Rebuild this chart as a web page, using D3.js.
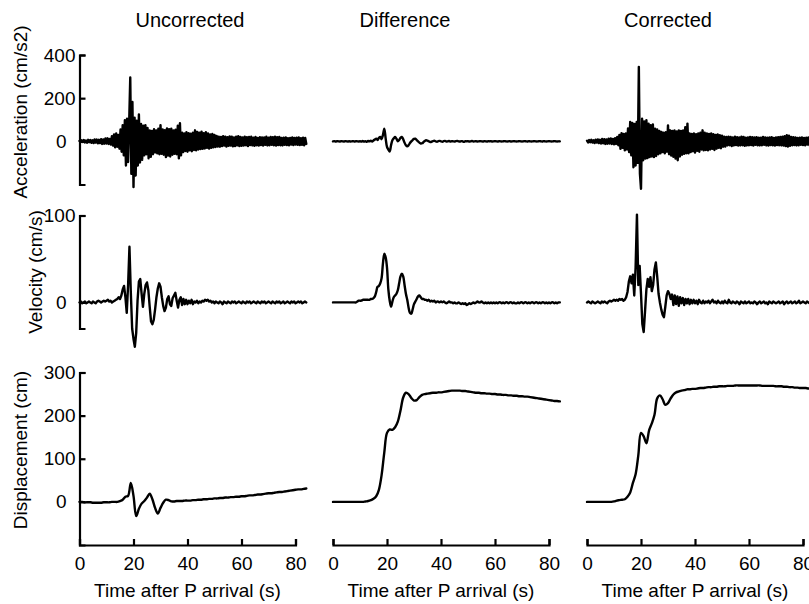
<!DOCTYPE html>
<html>
<head>
<meta charset="utf-8">
<script src="https://cdn.jsdelivr.net/npm/d3@7"></script>
<style>
  body { margin: 0; background: #fff; }
  svg { display: block; }
  text { font-family: "Liberation Sans", Arial, Helvetica, sans-serif; fill: #000; }
</style>
</head>
<body>
<svg id="chart" width="809" height="604"></svg>
<script>
// ---- labels and ticks ----
const columnTitles = ["Uncorrected", "Difference", "Corrected"];
const rowLabels = ["Acceleration (cm/s2)", "Velocity (cm/s)", "Displacement (cm)"];
const timeTicks = [0, 20, 40, 60, 80];
const accTicks = [400, 200, 0];
const velTicks = [100, 0];
const dispTicks = [300, 200, 100, 0];
const xAxisTitle = "Time after P arrival (s)";

// ---- sampling intervals (s) ----
const accStep = 0.4;
const accDiffStep = 0.5;
const velStep = 0.5;
const dispStep = 1;

// ---- acceleration (cm/s2), from t = 0 ----
const accUncorrected = [
  2,-4,5,-3,6,-5,4,-6,7,-4,
  6,-7,5,-8,9,-6,8,-9,7,-8,
  10,-12,9,-11,13,-10,14,-12,11,-15,
  24,-20,32,-28,36,-25,30,-34,55,-48,
  75,-65,98,-112,105,-96,88,296,-150,182,
  -212,110,-158,96,-112,124,-98,80,-86,72,
  -65,75,-60,62,-79,51,-72,48,-60,56,
  -52,50,-56,58,-60,75,-58,55,-62,52,
  -73,60,-66,56,-70,58,-62,50,-58,54,
  -60,72,-79,84,-65,40,-50,36,-45,42,
  -48,38,-42,35,-46,40,-40,51,-42,44,
  -38,40,-36,45,-35,38,-33,42,-30,36,
  -34,32,-30,34,-28,30,-26,25,-24,22,
  -25,20,-22,24,-20,22,-24,19,-21,23,
  -20,22,-23,18,-22,21,-19,24,-22,20,
  -21,18,-20,22,-18,19,-22,20,-17,21,
  -19,17,-21,20,-18,16,-20,19,-17,18,
  -20,18,-16,21,-19,17,-18,20,-16,19,
  -18,22,-20,19,-17,20,-18,16,-19,17,
  -16,18,-17,15,-18,16,-15,18,-17,16,
  -15,17,-16,18,-17,15,-16,17,-18,16,
  -12
];
const accDifference = [
  0,1,-1,1,0,-1,1,0,-1,1,
  0,-1,1,-1,0,1,-1,1,0,-1,
  1,-1,2,-1,1,-2,2,0,3,-1,
  4,8,12,6,16,20,10,30,59,14,
  -26,-38,-47,-18,5,14,20,12,0,6,
  16,20,10,-6,-18,-23,-18,-8,0,6,
  11,12,6,0,-6,-10,-9,-4,2,5,
  3,0,-3,-2,1,3,0,-2,1,2,
  0,-2,1,2,-1,0,2,-1,1,0,
  -1,1,2,0,-1,1,0,-2,1,0,
  1,-1,0,2,-1,0,1,-1,0,1,
  0,-1,1,0,-1,1,0,1,-1,0,
  1,0,-1,1,0,-1,0,1,0,-1,
  0,1,-1,0,1,0,-1,0,1,0,
  -1,0,1,0,-1,1,0,-1,0,1,
  0,-1,0,1,0,-1,1,0,-1,0,
  1,0,-1,0,1,0,-1,0,0
];
const accCorrected = [
  3,-5,6,-4,7,-6,5,-8,8,-6,
  9,-8,7,-10,11,-9,10,-12,9,-11,
  12,-10,13,-12,11,-14,15,-12,20,-18,
  30,-35,38,-30,34,-42,36,-38,60,-50,
  90,-65,85,-120,80,-112,90,-100,345,-150,
  -220,105,-88,92,-80,98,-78,82,-73,75,
  -70,78,-73,59,-68,55,-60,48,-56,43,
  -50,40,-56,42,-48,74,-60,51,-66,48,
  -72,50,-80,46,-88,51,-70,48,-62,50,
  -58,66,-55,82,-56,36,-50,34,-46,36,
  -52,33,-44,36,-48,40,-38,51,-42,40,
  -40,36,-42,34,-38,36,-35,33,-40,30,
  -34,32,-30,28,-32,26,-25,22,-24,20,
  -19,21,-18,20,-22,18,-19,21,-17,19,
  -20,18,-19,22,-18,20,-21,17,-19,18,
  -18,20,-17,19,-20,18,-16,19,-18,17,
  -19,17,-18,20,-16,18,-19,17,-20,18,
  -17,19,-18,16,-20,18,-17,19,-18,20,
  -19,22,-20,24,-22,28,-24,26,-21,20,
  -18,19,-17,18,-19,16,-18,17,-16,18,
  -17,16,-18,17,-15,18,-17,16,-18,17,
  -15
];

// ---- velocity (cm/s), from t = 0 ----
const velUncorrected = [
  0,1,-1,0,1,-1,0,1,0,-1,
  1,0,-1,1,2,1,0,1,2,1,
  2,3,1,2,0,1,2,3,4,6,
  4,8,15,19,6,-12,20,64,12,-30,
  -42,-51,-35,2,24,27,10,-5,10,20,
  23,14,-5,-22,-25,-20,-8,6,16,22,
  18,6,-4,-10,-6,4,7,-2,-4,5,
  8,11,2,-6,3,6,-3,4,-2,3,
  -2,2,-1,3,-2,1,0,2,-1,1,
  0,2,1,3,2,3,1,2,0,1,
  -1,1,0,-1,1,0,-2,1,0,-1,
  1,0,-1,1,0,1,-1,0,1,0,
  -1,1,0,-1,1,0,1,-1,0,1,
  0,-1,1,0,-1,1,0,1,-1,0,
  1,0,-1,1,0,-1,1,0,1,-1,
  0,1,-1,0,1,0,-1,1,0,1,
  -1,0,1,0,1,-1,0,1,0
];
const velDifference = [
  0,0,0,0,0,0,0,0,0,0,
  0,0,0,0,0,0,0,0,1,2,
  2,2,3,3,3,3,3,3,4,4,
  5,7,12,18,19,22,28,45,56,52,
  40,15,2,-5,1,6,8,10,14,22,
  30,33,30,20,10,3,-6,-12,-13,-8,
  -2,1,4,7,8,6,4,4,3,3,
  2,3,1,2,1,2,0,1,1,0,
  1,0,1,0,-1,0,1,0,0,-1,
  0,-1,-1,0,-1,-2,-1,-2,-1,-3,
  -2,-1,-2,-1,0,-1,0,1,0,0,
  1,0,-1,0,-1,0,-1,0,-1,0,
  -1,0,-1,0,0,-1,0,-1,0,0,
  -1,0,0,-1,0,-1,-1,0,-1,0,
  0,-1,0,0,-1,0,-1,0,0,-1,
  0,0,-1,0,-1,0,0,-1,0,-1,
  0,-1,0,0,-1,0,-1,0,0
];
const velCorrected = [
  0,1,0,-1,1,0,-1,0,1,0,
  -1,1,0,1,0,-1,1,2,1,2,
  3,2,3,2,4,3,4,2,3,6,
  12,24,30,22,32,8,40,101,20,42,
  10,-25,-34,-10,15,27,18,29,13,20,
  38,46,30,10,0,-8,-14,-17,-5,8,
  13,10,4,9,-3,8,-2,7,-4,6,
  -1,5,-3,4,-1,4,-2,3,-1,3,
  -1,2,-2,3,0,-1,2,-1,1,0,
  2,-1,1,3,0,1,-1,2,0,-1,
  1,-1,2,0,-1,3,0,-1,1,0,
  -1,1,0,-2,1,0,-1,1,-1,0,
  1,-1,0,-1,1,0,-2,0,1,-1,
  0,1,-1,0,-2,1,0,-1,1,0,
  -1,0,1,-1,0,1,-2,0,1,-1,
  0,1,-1,0,1,-1,0,2,-1,0,
  1,0,-1,1,0,-1,1,0,1
];

// ---- displacement (cm), from t = 0 ----
const dispUncorrected = [
  0,0,-1,-1,-1,-2,-2,-2,-2,-1,
  -1,-1,0,0,0,2,5,12,14,44,
  14,-33,-16,-4,2,10,19,6,-14,-27,
  -14,-2,5,4,1,1,2,2,2,3,
  3,3,4,4,5,5,6,6,7,7,
  8,8,9,9,10,10,11,11,12,12,
  13,13,14,15,15,16,17,17,18,19,
  20,20,21,22,23,23,24,25,26,27,
  28,29,29,30,31
];
const dispDifference = [
  0,0,0,0,0,0,0,0,0,0,
  0,0,1,2,4,7,13,28,62,115,
  160,168,167,173,186,212,242,253,250,241,
  235,236,243,248,250,251,252,253,253,254,
  254,255,256,257,258,258,258,258,257,257,
  256,255,254,253,253,252,252,251,251,250,
  250,249,249,248,248,247,247,246,246,245,
  245,244,244,243,242,241,240,239,238,237,
  236,235,234,234,233
];
const dispCorrected = [
  0,0,0,0,0,0,0,0,0,0,
  1,3,4,5,6,12,22,44,64,108,
  160,152,136,166,182,202,240,247,238,225,
  229,240,249,254,256,258,259,261,261,262,
  262,263,264,264,265,266,266,267,267,268,
  268,268,269,269,269,270,270,270,270,270,
  270,270,270,270,270,269,269,269,269,269,
  268,268,268,267,267,266,266,265,265,264,
  264,264,263,263,262
];

// ---- layout ----
const svg = d3.select("#chart");
const colRanges = [[79.5, 295.5], [333, 549], [587, 803]];
const xScales = colRanges.map(r => d3.scaleLinear().domain([0, 80]).range(r));

const yAcc = d3.scaleLinear().domain([-200, 400]).range([184.5, 55]);
const yVel = d3.scaleLinear().domain([-30, 100]).range([328.5, 215.5]);
const yDisp = d3.scaleLinear().domain([-100, 300]).range([545, 372.5]);
const rowScales = [yAcc, yVel, yDisp];
const rowTicks = [accTicks, velTicks, dispTicks];

const panels = [
  { row: 0, col: 0, values: accUncorrected, step: accStep, curve: d3.curveLinear },
  { row: 0, col: 1, values: accDifference, step: accDiffStep, curve: d3.curveCatmullRom },
  { row: 0, col: 2, values: accCorrected, step: accStep, curve: d3.curveLinear },
  { row: 1, col: 0, values: velUncorrected, step: velStep, curve: d3.curveLinear },
  { row: 1, col: 1, values: velDifference, step: velStep, curve: d3.curveCatmullRom },
  { row: 1, col: 2, values: velCorrected, step: velStep, curve: d3.curveLinear },
  { row: 2, col: 0, values: dispUncorrected, step: dispStep, curve: d3.curveCatmullRom },
  { row: 2, col: 1, values: dispDifference, step: dispStep, curve: d3.curveCatmullRom },
  { row: 2, col: 2, values: dispCorrected, step: dispStep, curve: d3.curveCatmullRom }
];

// ---- traces ----
panels.forEach(p => {
  const x = xScales[p.col], y = rowScales[p.row];
  const line = d3.line()
    .x((v, i) => x(i * p.step))
    .y(v => y(v))
    .curve(p.curve);
  svg.append("path")
    .datum(p.values)
    .attr("d", line)
    .attr("fill", "none")
    .attr("stroke", "#000")
    .attr("stroke-width", 2.4)
    .attr("stroke-linejoin", "round")
    .attr("stroke-linecap", "round");
});

// ---- y axes (left column only) ----
function styleAxis(g) {
  g.selectAll("path, line").attr("stroke", "#000").attr("stroke-width", 2.2);
  g.selectAll("text").style("font-size", "19px").attr("fill", "#000");
}
rowScales.forEach((y, r) => {
  const g = svg.append("g")
    .attr("transform", `translate(${colRanges[0][0]},0)`)
    .call(d3.axisLeft(y).tickValues(rowTicks[r]).tickFormat(d3.format("d"))
      .tickSizeInner(-6).tickSizeOuter(-6).tickPadding(4));
  styleAxis(g);
  g.selectAll(".tick text").filter(d => d === 0).attr("dx", -9);
});

// ---- x axes (bottom row) ----
xScales.forEach((x, c) => {
  const g = svg.append("g")
    .attr("transform", `translate(0,${yDisp.range()[0]})`)
    .call(d3.axisBottom(x).tickValues(timeTicks).tickFormat(d3.format("d"))
      .tickSizeInner(-6).tickSizeOuter(-6).tickPadding(12));
  styleAxis(g);
  svg.append("text")
    .attr("x", (colRanges[c][0] + colRanges[c][1]) / 2)
    .attr("y", 597)
    .attr("text-anchor", "middle")
    .style("font-size", "19px")
    .text(xAxisTitle);
});

// ---- column titles ----
const titleX = [190, 405, 668];
columnTitles.forEach((t, c) => {
  svg.append("text")
    .attr("x", titleX[c])
    .attr("y", 27)
    .attr("text-anchor", "middle")
    .style("font-size", "20px")
    .text(t);
});

// ---- row labels ----
const labelPos = [[27, 112], [42, 272], [27, 450]];
rowLabels.forEach((t, r) => {
  svg.append("text")
    .attr("transform", `translate(${labelPos[r][0]},${labelPos[r][1]}) rotate(-90)`)
    .attr("text-anchor", "middle")
    .style("font-size", "19px")
    .text(t);
});
</script>
</body>
</html>
